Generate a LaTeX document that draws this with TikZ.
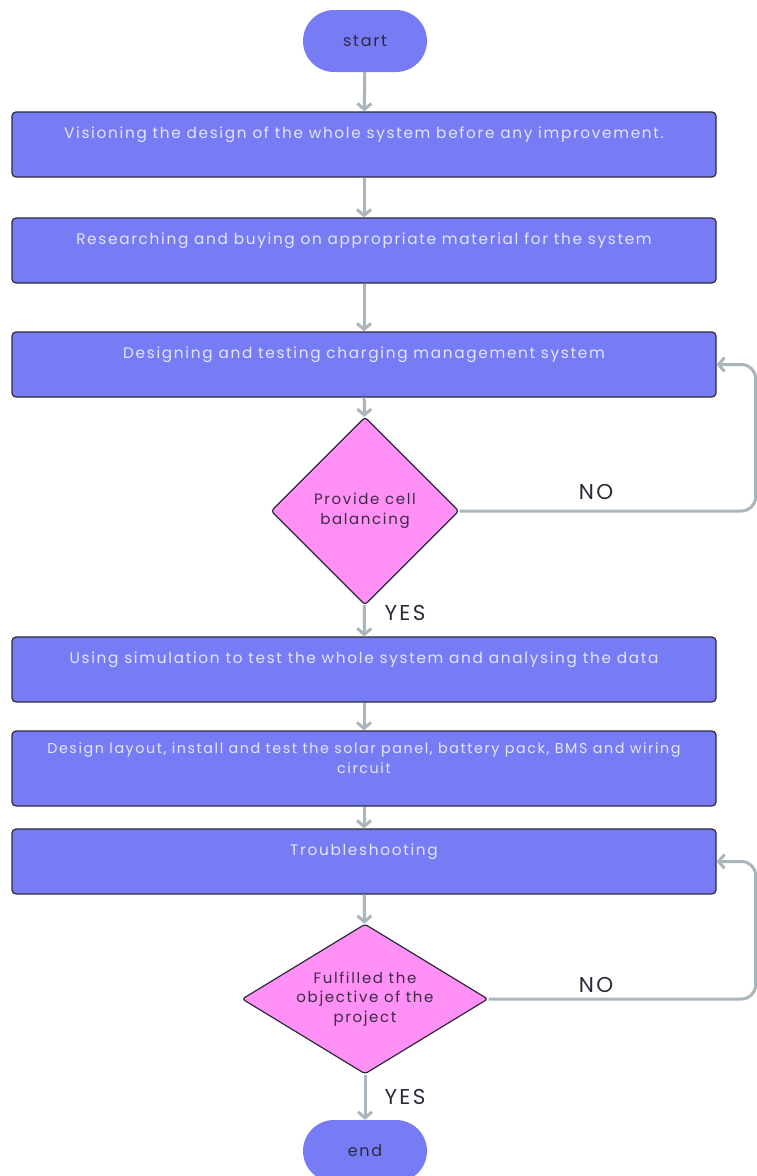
\documentclass[tikz,border=0pt]{standalone}
\usepackage{fontspec}
\usepackage{xcolor}
\setmainfont{Poppins}[LetterSpace=11]
\usetikzlibrary{shapes.geometric,arrows.meta}

\definecolor{boxblue}{HTML}{787CF4}
\definecolor{boxtext}{HTML}{E4E6FF}
\definecolor{decpink}{HTML}{FF90F6}
\definecolor{flowgray}{HTML}{A9B6BC}
\definecolor{darkink}{HTML}{2B2A3A}
\definecolor{decink}{HTML}{3B2B45}

\begin{document}
\begin{tikzpicture}[
			x=1pt, y=-1pt,
			terminal/.style={fill=boxblue, rounded corners=31pt, minimum width=124pt, minimum height=62pt, text=darkink, font=\fontsize{16}{19}\selectfont},
			stepbox/.style={draw=darkink, line width=1.2pt, fill=boxblue, rounded corners=4pt, minimum width=704pt, minimum height=65pt, text=boxtext, align=center, font=\fontsize{15.3}{25}\selectfont},
			decision/.style={diamond, draw=darkink, line width=1.2pt, fill=decpink, rounded corners=3pt, inner sep=0pt, align=center, text=decink, font=\fontsize{15}{19.5}\selectfont},
			answer/.style={text=darkink, font=\fontsize{21.5}{24}\selectfont},
			flow/.style={draw=flowgray, line width=3pt, -{Straight Barb[length=6pt,width=14pt]}}
		]
		\useasboundingbox (0,0) rectangle (756,1176);

		\node[terminal] (start) at (365,41) {start};
		\node[stepbox] (vision) at (364,144.5) {Visioning the design of the whole system before any improvement.\\[-8pt]\strut};
		\node[stepbox] (research) at (364,250.5) {Researching and buying on appropriate material for the system\\[-8pt]\strut};
		\node[stepbox] (charging) at (364,364.5) {Designing and testing charging management system\\[-8pt]\strut};
		\node[decision, minimum width=188pt, minimum height=188pt] (balance) at (365,511) {Provide cell\\balancing};
		\node[stepbox] (simulate) at (364,669.5) {Using simulation to test the whole system and analysing the data\\[-8pt]\strut};
		\node[stepbox, minimum height=75pt, font=\fontsize{14.3}{20}\selectfont] (install) at (364,768.5) {Design layout, install and test the solar panel, battery pack, BMS and wiring\\circuit\\[-6pt]\strut};
		\node[stepbox] (trouble) at (364,861.5) {Troubleshooting\\[-8pt]\strut};
		\node[decision, inner sep=-15pt, minimum width=246pt, minimum height=150pt] (objective) at (365,999) {Fulfilled the\\objective of the\\project};
		\node[terminal] (end) at (365,1151) {end};

		% yes / no labels
		\node[answer] (yes1) at (405,613) {YES};
		\node[answer] (no1) at (596,492) {NO};
		\node[answer] (yes2) at (405,1097) {YES};
		\node[answer] (no2) at (596,985) {NO};

		\draw[flow] (start) -- (vision);
		\draw[flow] (vision) -- (research);
		\draw[flow] (research) -- (charging);
		\draw[flow] (charging) -- (balance);
		\draw[flow] (balance) -- (simulate);
		\draw[flow] (simulate) -- (install);
		\draw[flow] (install) -- (trouble);
		\draw[flow] (trouble) -- (objective);
		\draw[flow] (objective) -- (end);
		\draw[flow, rounded corners=14pt] (balance.east) -- ++(296,0) |- (charging.east);
		\draw[flow, rounded corners=14pt] (objective.east) -- ++(267,0) |- (trouble.east);
	\end{tikzpicture}
\end{document}
